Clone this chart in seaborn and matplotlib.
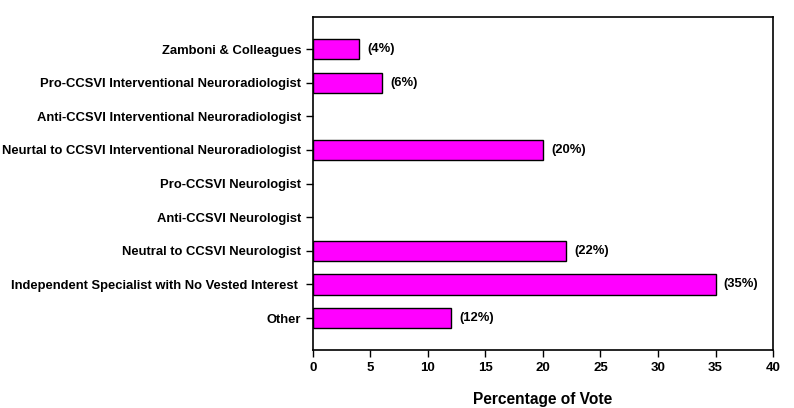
import pandas as pd
import numpy as np
import seaborn as sns
import matplotlib.pyplot as plt

# data
categories = ['Zamboni & Colleagues',
              'Pro-CCSVI Interventional Neuroradiologist',
              'Anti-CCSVI Interventional Neuroradiologist',
              'Neurtal to CCSVI Interventional Neuroradiologist',
              'Pro-CCSVI Neurologist',
              'Anti-CCSVI Neurologist',
              'Neutral to CCSVI Neurologist',
              'Independent Specialist with No Vested Interest ',
              'Other']
votes = [4, 6, 0, 20, 0, 0, 22, 35, 12]
labels = ['(4%)', '(6%)', '', '(20%)', '', '', '(22%)', '(35%)', '(12%)']
xticks = [0, 5, 10, 15, 20, 25, 30, 35, 40]

df = pd.DataFrame({'category': categories, 'vote': votes})

sns.set_style('white')
plt.rcParams['font.family'] = ['Liberation Sans', 'DejaVu Sans']
plt.rcParams['font.weight'] = 'bold'
plt.rcParams['text.color'] = 'black'
plt.rcParams['axes.labelcolor'] = 'black'
plt.rcParams['xtick.color'] = 'black'
plt.rcParams['ytick.color'] = 'black'

fig = plt.figure(figsize=(7.94, 4.08), dpi=100)
ax = fig.add_axes([0.394, 0.142, 0.5796, 0.816])

sns.barplot(data=df, y='category', x='vote', orient='h', color='#FF00FF',
            edgecolor='black', linewidth=1, width=0.6, saturation=1, ax=ax)

# no outline for empty bars
for patch, v in zip(ax.patches, votes):
    if v == 0:
        patch.set_linewidth(0)

for i, (v, lab) in enumerate(zip(votes, labels)):
    if lab:
        ax.annotate(lab, (v, i), xytext=(6, 0), textcoords='offset points',
                    va='center', ha='left', fontsize=9.4, fontweight='bold')

ax.set_xlim(0, 40)
ax.set_ylim(8.95, -0.95)
ax.set_xticks(xticks)
ax.set_xticklabels([str(t) for t in xticks], fontsize=9.5, fontweight='bold')
ax.set_yticks(range(len(categories)))
ax.set_yticklabels(categories, fontsize=9.4, fontweight='bold')
ax.set_ylabel('')
ax.set_xlabel('Percentage of Vote', fontsize=11.2, fontweight='bold', labelpad=13)
ax.tick_params(axis='both', direction='out', length=5, width=1, color='black',
               bottom=True, left=True)
for s in ax.spines.values():
    s.set_color('black')
    s.set_linewidth(1.2)

fig.savefig('out.png', dpi=100)
